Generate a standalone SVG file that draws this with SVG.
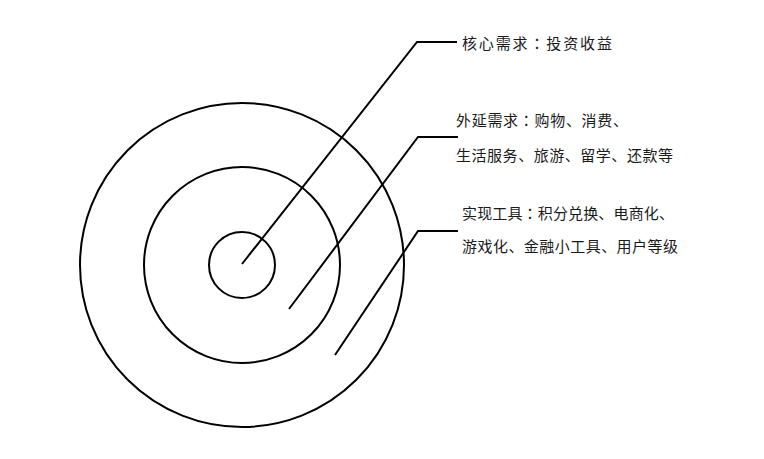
<svg xmlns="http://www.w3.org/2000/svg" width="764" height="459" viewBox="0 0 764 459">
<style>
.ring{fill:none;stroke:#000;stroke-width:2}
.conn{fill:none;stroke:#000;stroke-width:2;stroke-linejoin:miter}
.lbl{font-family:"Noto Sans CJK SC",sans-serif;font-size:15px;fill:#1a1a1a}
.col{font-family:"Noto Sans CJK TC",sans-serif}
</style>
<rect width="764" height="459" fill="#fff"/>
<g id="ring-outer"><circle class="ring" cx="242" cy="265" r="162"/></g>
<g id="ring-middle"><circle class="ring" cx="242" cy="265" r="98"/></g>
<g id="ring-inner"><circle class="ring" cx="242" cy="265" r="33"/></g>
<g id="connectors">
<polyline class="conn" points="242,264 417,42 457,42"/>
<polyline class="conn" points="289,309 418,137 458,137"/>
<polyline class="conn" points="335,355 418,231 458,231"/>
</g>
<g id="label-core">
<text class="lbl" x="462" y="49" textLength="150" lengthAdjust="spacing">核心需求<tspan class="col">：</tspan>投资收益</text>
</g>
<g id="label-extension">
<text class="lbl" x="456" y="126" textLength="172" lengthAdjust="spacing">外延需求<tspan class="col">：</tspan>购物、消费、</text>
<text class="lbl" x="456" y="161" textLength="217" lengthAdjust="spacing">生活服务、旅游、留学、还款等</text>
</g>
<g id="label-tools">
<text class="lbl" x="462" y="219" textLength="212" lengthAdjust="spacing">实现工具<tspan class="col">：</tspan>积分兑换、电商化、</text>
<text class="lbl" x="462" y="252" textLength="216" lengthAdjust="spacing">游戏化、金融小工具、用户等级</text>
</g>
</svg>
